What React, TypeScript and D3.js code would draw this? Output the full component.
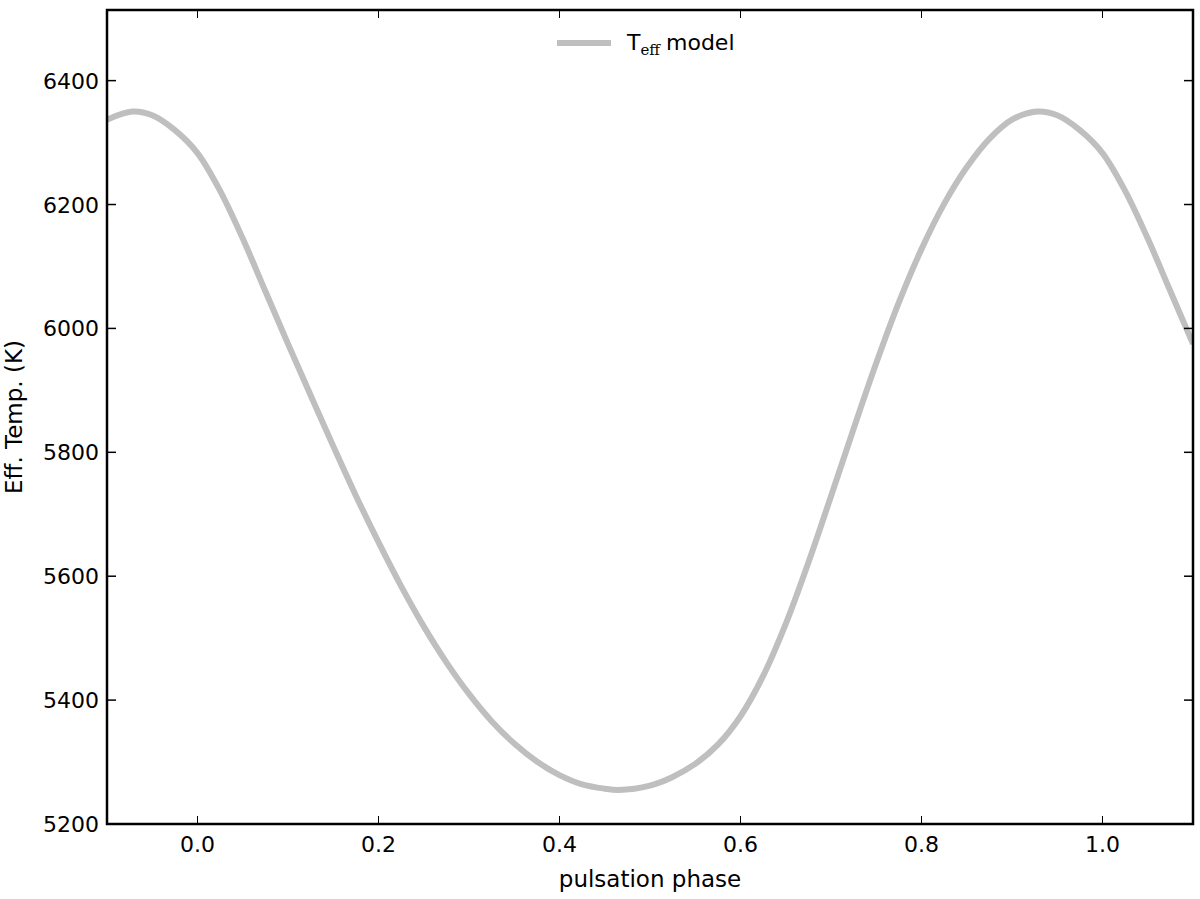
import React from "react";
import * as d3 from "d3";

const phase = [-0.1, -0.072, -0.05, -0.025, 0.0, 0.025, 0.05, 0.075, 0.1, 0.125, 0.15, 0.175, 0.2, 0.225, 0.25, 0.275, 0.3, 0.325, 0.35, 0.375, 0.4, 0.425, 0.45, 0.465, 0.5, 0.525, 0.55, 0.575, 0.6, 0.625, 0.65, 0.675, 0.7, 0.725, 0.75, 0.775, 0.8, 0.825, 0.85, 0.875, 0.9, 0.928, 0.95, 0.975, 1.0, 1.025, 1.05, 1.075, 1.1];
const teff = [6337, 6350, 6344, 6320, 6283, 6222, 6145, 6060, 5975, 5892, 5810, 5730, 5655, 5584, 5519, 5461, 5410, 5366, 5330, 5301, 5279, 5264, 5257, 5255, 5262, 5276, 5297, 5328, 5374, 5439, 5523, 5622, 5729, 5838, 5944, 6042, 6128, 6201, 6260, 6306, 6337, 6350, 6344, 6320, 6283, 6222, 6145, 6060, 5975];
const xTicks = [0.0, 0.2, 0.4, 0.6, 0.8, 1.0];
const yTicks = [5200, 5400, 5600, 5800, 6000, 6200, 6400];

const W = 1200, H = 899;
const L = 107, R = 1193, T = 10, B = 824;
const FONT = "DejaVu Sans, sans-serif";

export default function App() {
  const x = d3.scaleLinear().domain([-0.1, 1.1]).range([L, R]);
  const y = d3.scaleLinear().domain([5200, 6514]).range([B, T]);
  const pts: [number, number][] = phase.map((p, i) => [p, teff[i]]);
  const line = d3.line<[number, number]>().x(d => x(d[0])).y(d => y(d[1])).curve(d3.curveCatmullRom.alpha(0.5));
  return (
    <svg width={W} height={H} style={{ position: "absolute", left: 0, top: 0, background: "#fff" }}>
      <defs>
        <clipPath id="pc"><rect x={L} y={T} width={R - L} height={B - T} /></clipPath>
      </defs>
      <rect x={0} y={0} width={W} height={H} fill="#fff" />
      <path d={line(pts) || ""} fill="none" stroke="#bfbfbf" strokeWidth={6} clipPath="url(#pc)" />
      {xTicks.map(t => (
        <g key={"x" + t}>
          <line x1={x(t)} x2={x(t)} y1={B} y2={B - 8} stroke="#000" strokeWidth={1} />
          <line x1={x(t)} x2={x(t)} y1={T} y2={T + 8} stroke="#000" strokeWidth={1} />
          <text x={x(t)} y={852} textAnchor="middle" fontFamily={FONT} fontSize={22} fill="#000">{t.toFixed(1)}</text>
        </g>
      ))}
      {yTicks.map(t => (
        <g key={"y" + t}>
          <line x1={L} x2={L + 9} y1={y(t)} y2={y(t)} stroke="#000" strokeWidth={1.5} />
          <line x1={R} x2={R - 9} y1={y(t)} y2={y(t)} stroke="#000" strokeWidth={1.5} />
          <text x={99} y={y(t) + 8} textAnchor="end" fontFamily={FONT} fontSize={22} fill="#000">{t}</text>
        </g>
      ))}
      <rect x={L} y={T} width={R - L} height={B - T} fill="none" stroke="#000" strokeWidth={2.5} />
      <text x={(L + R) / 2} y={887} textAnchor="middle" fontFamily={FONT} fontSize={23} fill="#000">pulsation phase</text>
      <text transform={`translate(22, ${(T + B) / 2}) rotate(-90)`} textAnchor="middle" fontFamily={FONT} fontSize={23} fill="#000">Eff. Temp. (K)</text>
      <line x1={557} x2={611} y1={43} y2={43} stroke="#bfbfbf" strokeWidth={6} />
      <text x={627} y={50} fontFamily={FONT} fontSize={22} fill="#000">
        T
        <tspan fontFamily="DejaVu Serif, serif" fontSize={15} dy={5}>eff</tspan>
        <tspan dy={-5} dx={6}>model</tspan>
      </text>
    </svg>
  );
}
